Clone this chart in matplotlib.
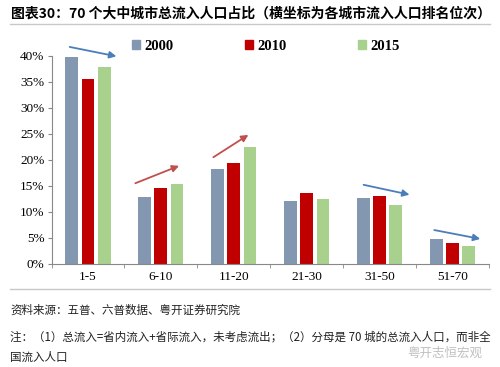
import numpy as np
import matplotlib
matplotlib.use('Agg')
import matplotlib.pyplot as plt
from matplotlib.patches import Patch

plt.rcParams['font.family'] = ['Noto Sans CJK SC', 'DejaVu Sans']

groups = ['1-5', '6-10', '11-20', '21-30', '31-50', '51-70']
years = ['2000', '2010', '2015']
v2000 = [39.7, 12.8, 18.2, 12.0, 12.7, 4.75]
v2010 = [35.6, 14.6, 19.4, 13.65, 13.0, 4.0]
v2015 = [37.9, 15.4, 22.5, 12.4, 11.3, 3.5]
yticks = [0, 5, 10, 15, 20, 25, 30, 35, 40]

# trend arrows (start, end) in data coords
arrows = [((-0.25, 41.7), (0.39, 39.9), '#4a7ebb'),
          ((0.65, 15.5), (1.25, 18.85), '#c0504d'),
          ((1.72, 20.5), (2.2, 24.8), '#c0504d'),
          ((3.78, 15.2), (4.41, 13.3), '#4a7ebb'),
          ((4.75, 6.5), (5.38, 4.8), '#4a7ebb')]

colors = ['#8497b0', '#c00000', '#a9d18e']
serif = 'Liberation Serif'

fig = plt.figure(figsize=(5, 3.67), dpi=100)
ax = fig.add_axes([0.103, 0.281, 0.875, 0.567])

x = np.arange(len(groups))
w = 0.175
for i, vals in enumerate([v2000, v2010, v2015]):
    ax.bar(x + (i - 1) * 0.222, vals, w, color=colors[i], zorder=2)

ax.set_xlim(-0.5, 5.5)
ax.set_ylim(0, 40)
ax.set_yticks(yticks)
ax.set_yticklabels([f'{t}%' for t in yticks], family=serif, fontsize=9.5)
ax.set_xticks(x)
ax.set_xticklabels(groups, family=serif, fontsize=9.5)
ax.set_xticks(np.arange(-0.5, 6), minor=True)
ax.tick_params(axis='x', which='major', length=0, pad=5)
ax.tick_params(axis='x', which='minor', length=3, color='#888888', direction='out')
ax.tick_params(axis='y', length=3, color='#888888', pad=2)
for s in ['top', 'right']:
    ax.spines[s].set_visible(False)
for s in ['left', 'bottom']:
    ax.spines[s].set_color('#888888')
    ax.spines[s].set_linewidth(0.8)

for (x0, y0), (x1, y1), c in arrows:
    ax.annotate('', xy=(x1, y1), xytext=(x0, y0), annotation_clip=False,
                arrowprops=dict(arrowstyle='-|>', color=c, lw=1.3,
                                mutation_scale=10, shrinkA=0, shrinkB=0))

handles = [Patch(color=colors[i], label=years[i]) for i in range(3)]
leg = fig.legend(handles=handles, loc='center', bbox_to_anchor=(0.531, 0.874),
                 ncol=3, frameon=False, handlelength=0.6, handleheight=0.6,
                 handletextpad=0.25, columnspacing=4.9,
                 prop=dict(family=serif, weight='bold', size=10.5))

fig.text(0.022, 0.963, '图表30：70 个大中城市总流入人口占比（横坐标为各城市流入人口排名位次）',
         fontsize=10, weight='bold', va='center', ha='left')
fig.add_artist(plt.Line2D([0.02, 0.98], [0.935, 0.935], color='#c8c8c8', lw=1))
fig.add_artist(plt.Line2D([0.02, 0.98], [0.213, 0.213], color='#c8c8c8', lw=1))

fig.text(0.02, 0.155, '资料来源：五普、六普数据、粤开证券研究院',
         fontsize=8.3, va='center', ha='left', color='#222222')
fig.text(0.02, 0.082, '注：（1）总流入=省内流入+省际流入，未考虑流出；（2）分母是 70 城的总流入人口，而非全',
         fontsize=8.3, va='center', ha='left', color='#222222')
fig.text(0.02, 0.027, '国流入人口',
         fontsize=8.3, va='center', ha='left', color='#222222')
fig.text(0.965, 0.038, '粤开志恒宏观', fontsize=9, va='center', ha='right',
         color='#b0b0b0', alpha=0.8)

fig.savefig('out.png', dpi=100)
